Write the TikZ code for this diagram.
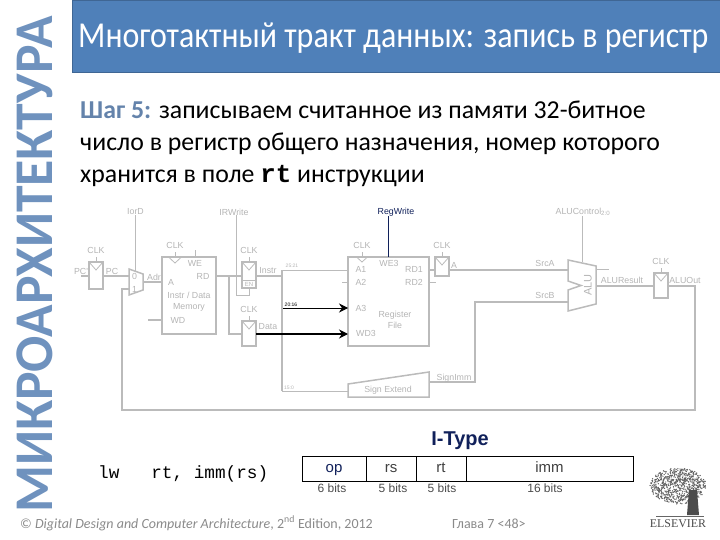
\documentclass[tikz,border=0pt]{standalone}
\usepackage{fontspec}
\setmainfont{Carlito}
\setmonofont{Liberation Mono}
\newfontfamily\diagfont{Liberation Sans}
\newfontfamily\logofont{Liberation Serif}
\usetikzlibrary{calc,positioning,arrows.meta}
\definecolor{slideblue}{HTML}{4F80B9}
\definecolor{sideblue}{HTML}{6F92BE}
\definecolor{wiregray}{HTML}{BBBBBB}
\definecolor{labelgray}{HTML}{B4B4B4}
\definecolor{footgray}{HTML}{8A8A8A}
\definecolor{navyink}{HTML}{10205A}
\tikzset{
	blockbox/.style={draw=wiregray,line width=1.5pt,inner sep=0pt,outer sep=0pt},
	wirethick/.style={draw=wiregray,line width=1.5pt},
	wirethin/.style={draw=wiregray,line width=.8pt},
	lbl/.style={text=labelgray,inner sep=0pt,font=\diagfont\fontsize{8.8}{10.5}\selectfont},
	tinylbl/.style={lbl,font=\diagfont\fontsize{5}{6}\selectfont},
	activewire/.style={line width=#1,-{Stealth[length=9pt,width=9pt]}},
	field/.style={draw,line width=.8pt,minimum height=25pt,inner sep=0pt,outer sep=0pt,text height=1.5ex,text depth=0pt,text=black!75,font=\diagfont\fontsize{15}{16}\selectfont},
	bitlbl/.style={inner sep=0pt,text=black!70,font=\diagfont\fontsize{12}{13}\selectfont}
}
\newcommand{\clockmark}[4]{
	\coordinate (#1top) at ($(#1.north)+(#2,0)$);
	\draw[wirethin] ($(#1top)+(-#3,0)$) -- ($(#1top)+(0,#4)$) -- ($(#1top)+(#3,0)$);
	\draw[wirethin] (#1top) -- +(0,-5);
	\node[lbl] (#1clk) at ($(#1top)+(0,-11.5)$) {CLK};}

\begin{document}
\begin{tikzpicture}[>=stealth,x=1pt,y=-1pt]
\useasboundingbox (0,0) rectangle (720,540);

%% title, side text and step text
\node[fill=slideblue,draw=slideblue!80!black,line width=.5pt,anchor=north west,minimum width=648pt,minimum height=72pt,inner sep=0pt] (band) at (72,0) {};
\node[text=white,anchor=base west,inner sep=0pt,font=\fontsize{36.5}{40}\selectfont] (title) at (78,48) {\scalebox{.875}[1]{Многотактный тракт данных: запись в регистр}};
\node[text=sideblue,rotate=90,anchor=base west,inner sep=0pt,font=\bfseries\fontsize{54.5}{60}\selectfont] (side) at (52,513) {\scalebox{.985}[1]{МИКРОАРХИТЕКТУРА}};
\node[anchor=north west,align=left,inner sep=0pt,font=\fontsize{25.8}{32}\selectfont] (stepnote) at (80,101)
	{\textcolor{sideblue!90!black}{\textbf{Шаг 5:}} записываем считанное из памяти 32-битное\\
	число в регистр общего назначения, номер которого\\
	хранится в поле \texttt{\textbf{rt}} инструкции};

%% registers and big blocks
\node[blockbox,minimum width=14pt,minimum height=27pt] (PCreg) at (96,275.5) {};
\node[blockbox,minimum width=54pt,minimum height=77pt] (mem) at (189,295.5) {};
\node[blockbox,minimum width=14pt,minimum height=26pt] (Instrreg) at (249,275) {};
\node[blockbox,minimum width=14pt,minimum height=25pt] (Datareg) at (249,333.5) {};
\node[blockbox,minimum width=81pt,minimum height=89pt] (rf) at (388.5,301.5) {};
\node[blockbox,minimum width=14pt,minimum height=19pt] (Areg) at (442,266.5) {};
\node[blockbox,minimum width=14pt,minimum height=25pt] (ALUOutreg) at (661,285.5) {};
\clockmark{PCreg}{0}{7}{8}
\clockmark{mem}{-14}{6.5}{6}
\clockmark{Instrreg}{0}{7}{8}
\clockmark{Datareg}{0}{7}{8}
\clockmark{rf}{-26.5}{5.5}{5}
\clockmark{Areg}{0}{7}{8}
\clockmark{ALUOutreg}{0}{7}{8}

\coordinate (muxA) at (129,269);
\coordinate (muxB) at (143,274);
\coordinate (muxC) at (143,290);
\coordinate (muxD) at (129,295);
\draw[wirethick] (muxA)--(muxB)--(muxC)--(muxD)--cycle;
\coordinate (aluA) at (568,260);
\coordinate (aluB) at (596,266);
\coordinate (aluC) at (596,304);
\coordinate (aluD) at (568,311);
\coordinate (aluE) at (568,290);
\coordinate (aluF) at (581,285.5);
\coordinate (aluG) at (568,281);
\draw[wirethick] (aluA)--(aluB)--(aluC)--(aluD)--(aluE)--(aluF)--(aluG)--cycle;
\coordinate (seA) at (348,384);
\coordinate (seB) at (429,372);
\coordinate (seC) at (429,397);
\coordinate (seD) at (348,397);
\draw[wirethick] (seA)--(seB)--(seC)--(seD)--cycle;
\draw[wirethin] (Instrreg.south west)++(0,-8)--++(14,0);

%% wires
\coordinate (PCin) at (81,276);
\coordinate (PCa) at (89,276);
\coordinate (PCb) at (103,276);
\coordinate (mux0) at (129,276);
\coordinate (muxout) at (143,282);
\coordinate (memA) at (162,282);
\coordinate (memWD) at (162,320);
\coordinate (WDin) at (148,320);
\coordinate (memRD) at (216,276);
\coordinate (split) at (229,276);
\coordinate (InstrIn) at (242,276);
\coordinate (splitB) at (229,334);
\coordinate (DataIn) at (242,334);
\coordinate (InstrOut) at (256,276);
\coordinate (busT) at (282,276);
\coordinate (busB) at (282,391);
\coordinate (busM) at (282,270);
\coordinate (rfA1) at (348,270);
\coordinate (rfA2) at (348,282);
\coordinate (A2in) at (342,282);
\coordinate (bus20) at (283,308);
\coordinate (rfA3) at (348,308);
\coordinate (DataOut) at (256,334);
\coordinate (rfWD) at (348,334);
\coordinate (seIn) at (348,391);
\coordinate (rfRD1) at (429,270);
\coordinate (AIn) at (435,270);
\coordinate (rfRD2) at (429,282);
\coordinate (RD2out) at (436,282);
\coordinate (AOut) at (449,270);
\coordinate (SrcAin) at (568,270);
\coordinate (seOut) at (429,382);
\coordinate (seBend) at (475,382);
\coordinate (SrcBbend) at (475,302);
\coordinate (SrcBin) at (568,302);
\coordinate (zeroA) at (596,269);
\coordinate (zeroB) at (609,269);
\coordinate (aluOut) at (596,286);
\coordinate (ALUOutIn) at (654,286);
\coordinate (ALUOutOut) at (668,286);
\coordinate (backA) at (695,286);
\coordinate (backB) at (695,410);
\coordinate (backC) at (122,410);
\coordinate (backD) at (122,289);
\coordinate (mux1) at (129,289);
\draw[wirethick] (PCin)--(PCa);
\draw[wirethick] (PCb)--(mux0);
\draw[wirethick] (muxout)--(memA);
\draw[wirethick] (WDin)--(memWD);
\draw[wirethick] (memRD)--(InstrIn);
\draw[wirethick] (split)--(splitB)--(DataIn);
\draw[wirethick] (InstrOut)--(busT);
\draw[wirethick] (busM)--(busB);
\draw[wirethin] (busM)--(rfA1);
\draw[wirethin] (A2in)--(rfA2);
\draw[wirethin] (busB)--(seIn);
\draw[wirethick] (rfRD1)--(AIn);
\draw[wirethin] (rfRD2)--(RD2out);
\draw[wirethick] (AOut)--(SrcAin);
\draw[wirethick] (seOut)--(seBend)--(SrcBbend)--(SrcBin);
\draw[wirethin] (zeroA)--(zeroB);
\draw[wirethick] (aluOut)--(ALUOutIn);
\draw[wirethick] (ALUOutOut)--(backA)--(backB)--(backC)--(backD)--(mux1);
\draw[activewire=.8pt] (bus20)--(rfA3);
\draw[activewire=2.5pt] (DataOut)--(rfWD);

%% control signals
\node[lbl] (IorD) at (135.5,212) {IorD};
\node[lbl] (IRWrite) at (234,212) {IRWrite};
\node[lbl,text=navyink] (RegWrite) at (396,212) {RegWrite};
\node[lbl] (ALUControl) at (583,212) {ALUControl\textsubscript{2:0}};
\coordinate (IorDpin) at (135.5,271);
\coordinate (WEpin) at (195,257);
\coordinate (WEtop) at (195,250);
\coordinate (IRa) at (236,295);
\coordinate (IRb) at (249,295);
\coordinate (IRc) at (249,288);
\coordinate (WE3pin) at (388,257);
\coordinate (ALUCpin) at (582,262);
\draw[wirethin] (IorD.south-|IorDpin)--(IorDpin);
\draw[wirethin] (WEtop)--(WEpin);
\draw[wirethin] (IRWrite.south-|IRa)--(IRa)--(IRb)--(IRc);
\draw[navyink,line width=.8pt] (RegWrite.south-|WE3pin)--(WE3pin);
\draw[wirethin] (ALUControl.south-|ALUCpin)--(ALUCpin);

%% labels in the datapath
\node[lbl] (lPCp) at (81,271) {PC'};
\node[lbl] (lPC) at (112,271) {PC};
\node[lbl] (l0) at (134.5,276) {0};
\node[lbl] (l1) at (134.5,289) {1};
\node[lbl] (lAdr) at (154,277) {Adr};
\node[lbl] (lWE) at (195,263) {WE};
\node[lbl] (lA) at (171,282) {A};
\node[lbl] (lRD) at (203,276) {RD};
\node[lbl,align=center] (lmem) at (189,301.5) {Instr / Data\\Memory};
\node[lbl] (lWD) at (178,320) {WD};
\node[lbl,font=\diagfont\fontsize{6}{7}\selectfont] (lEN) at (249,284) {EN};
\node[lbl] (lInstr) at (268,271) {Instr};
\node[lbl] (lData) at (268,327) {Data};
\node[tinylbl] (l25) at (292,266) {25:21};
\node[tinylbl,text=black] (l20) at (291,305) {20:16};
\node[tinylbl] (l15) at (289,388) {15:0};
\node[lbl] (lWE3) at (389,263) {WE3};
\node[lbl] (lA1) at (361,269) {A1};
\node[lbl] (lA2) at (361,282) {A2};
\node[lbl] (lA3) at (361,308) {A3};
\node[lbl] (lWD3) at (366,333) {WD3};
\node[lbl] (lRD1) at (414,269) {RD1};
\node[lbl] (lRD2) at (414,282) {RD2};
\node[lbl,align=center] (lrf) at (395,320) {Register\\File};
\node[lbl] (lAq) at (454,265) {A};
\node[lbl] (lSrcA) at (545,263) {SrcA};
\node[lbl] (lSrcB) at (545,295) {SrcB};
\node[lbl,rotate=90,font=\diagfont\fontsize{11}{12}\selectfont] (lALU) at (588,285) {ALU};
\node[lbl] (lResult) at (622,280) {ALUResult};
\node[lbl] (lOut) at (685,280) {ALUOut};
\node[lbl] (lSign) at (388,390) {Sign Extend};
\node[lbl] (lImm) at (454,378) {SignImm};

%% instruction format
\node[anchor=base west,inner sep=0pt,font=\ttfamily\fontsize{17.7}{20}\selectfont] (asm) at (98,478) {lw~~~rt, imm(rs)};
\node[inner sep=0pt,text=navyink,font=\diagfont\bfseries\fontsize{20}{22}\selectfont] (itype) at (460,441) {I-Type};
\node[field,minimum width=64pt,anchor=west,text=navyink] (fop) at (302,468.5) {op};
\node[field,minimum width=50pt,right=0pt of fop] (frs) {rs};
\node[field,minimum width=50pt,right=0pt of frs] (frt) {rt};
\node[field,minimum width=167pt,right=0pt of frt] (fimm) {imm};
\node[bitlbl] (bop) at (332,488) {6 bits};
\node[bitlbl] (brs) at (393,488.5) {5 bits};
\node[bitlbl] (brt) at (442,488.5) {5 bits};
\node[bitlbl] (bimm) at (545,488.5) {16 bits};

%% footer
\node[anchor=base west,inner sep=0pt,text=footgray,font=\fontsize{14}{16}\selectfont] (foot) at (20,528) {© \textit{Digital Design and Computer Architecture}, 2\textsuperscript{nd} Edition, 2012};
\node[anchor=base west,inner sep=0pt,text=footgray,font=\fontsize{14}{16}\selectfont] (chapter) at (452,528) {Глава 7 <48>};

%% publisher mark
\pgfmathsetseed{7}
\foreach \i in {1,...,750}{
	\pgfmathsetmacro\rr{sqrt(rnd)}
	\pgfmathsetmacro\aa{360*rnd}
	\fill[black!62] ({678+28*\rr*cos(\aa)},{486+18*\rr*sin(\aa)}) circle (.7);}
\coordinate (trunkA) at (689,490);
\coordinate (trunkB) at (697,490);
\coordinate (trunkC) at (699,515);
\coordinate (trunkD) at (687,515);
\fill[black!70] (trunkA)--(trunkB)--(trunkC)--(trunkD)--cycle;
\coordinate (groundA) at (656,516);
\coordinate (groundB) at (704,516);
\draw[black!60,line width=1pt] (groundA)--(groundB);
\node[inner sep=0pt,text=black!70,font=\logofont\fontsize{11.9}{13}\selectfont] (elsevier) at (678,524) {ELSEVIER};
\end{tikzpicture}
\end{document}
